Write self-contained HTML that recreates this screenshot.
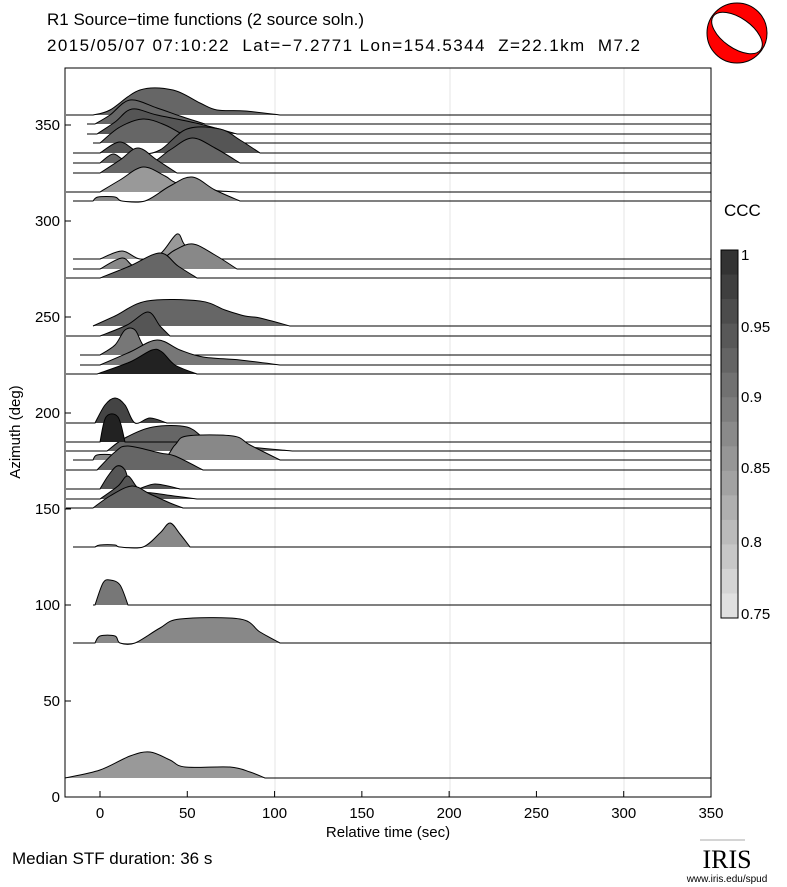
<!DOCTYPE html>
<html><head><meta charset="utf-8"><style>
body{margin:0;background:#fff;}
svg{display:block;font-family:"Liberation Sans",sans-serif;}
</style></head><body>
<svg id="s" width="787" height="887" viewBox="0 0 787 887" xmlns="http://www.w3.org/2000/svg">
<rect width="787" height="887" fill="#fff"/>
<text x="47" y="25" font-size="17">R1 Source−time functions (2 source soln.)</text>
<text x="47" y="51" font-size="17" textLength="593" lengthAdjust="spacing" style="white-space:pre">2015/05/07 07:10:22  Lat=−7.2771 Lon=154.5344  Z=22.1km  M7.2</text>
<g stroke="#e4e4e4" stroke-width="1">
<line x1="275" y1="68" x2="275" y2="797"/><line x1="450" y1="68" x2="450" y2="797"/><line x1="624" y1="68" x2="624" y2="797"/>
</g>
<g id="tr"></g>
<rect x="65" y="68" width="646" height="729" fill="none" stroke="#000" stroke-width="1"/>
<g font-size="15" text-anchor="end" id="yt"></g>
<g font-size="15" text-anchor="middle" id="xt"></g>
<text x="388" y="837" font-size="15" text-anchor="middle">Relative time (sec)</text>
<text transform="translate(20,432) rotate(-90)" font-size="15" text-anchor="middle">Azimuth (deg)</text>
<text x="12" y="864" font-size="17">Median STF duration: 36 s</text>
<text x="724" y="216" font-size="17">CCC</text>
<g id="cb"></g>
<rect x="721" y="250" width="17" height="368" fill="none" stroke="#000"/>
<g font-size="15" id="ct"></g>
<circle cx="737" cy="33" r="30" fill="#f00" stroke="#000"/>
<ellipse cx="737" cy="33" rx="29" ry="15" transform="rotate(35 737 33)" fill="#fff" stroke="#000"/>
<line x1="700" y1="840" x2="745" y2="840" stroke="#aaa"/>
<text x="727" y="868" font-size="26" font-family="Liberation Serif,serif" text-anchor="middle">IRIS</text>
<text x="727" y="882" font-size="10" text-anchor="middle">www.iris.edu/spud</text>
</svg>
<script>
const NS="http://www.w3.org/2000/svg";
function el(p,t,a,txt){const e=document.createElementNS(NS,t);for(const k in a)e.setAttribute(k,a[k]);if(txt!==undefined)e.textContent=txt;p.appendChild(e);return e;}
const yt=document.getElementById('yt');
for(let v=0;v<=350;v+=50){const y=797-v*1.92;el(yt,'text',{x:60,y:y+5},v);el(yt,'line',{x1:65,y1:y,x2:71,y2:y,stroke:'#000'});}
const xt=document.getElementById('xt');
for(let v=0;v<=350;v+=50){const x=100+v*1.7457;el(xt,'text',{x:x,y:818},v);el(xt,'line',{x1:x,y1:797,x2:x,y2:791,stroke:'#000'});}
const cb=document.getElementById('cb');
const n=15;for(let i=0;i<n;i++){const h=368/n;const g=Math.round(0x33+(0xe0-0x33)*i/(n-1));el(cb,'rect',{x:721,y:250+i*h,width:17,height:h+0.5,fill:`rgb(${g},${g},${g})`});}
const ct=document.getElementById('ct');
[[1,255],[0.95,327],[0.9,397],[0.85,468],[0.8,542],[0.75,614]].forEach(([v,y])=>el(ct,'text',{x:741,y:y+5},v));
const T=[
[115,66,'#666',[[93,115],[110,110],[140,90],[173,90],[200,103],[217,110],[245,111],[280,115]]],
[124,87,'#666',[[95,124],[110,115],[130,100],[157,108],[180,116],[205,124]]],
[134,87,'#555',[[97,134],[115,122],[132,109],[157,115],[200,124],[237,134]]],
[143,93,'#666',[[100,143],[120,127],[143,119],[165,125],[187,137],[200,143]]],
[153,73,'#555',[[100,153],[120,142],[140,153],[160,150],[187,129],[220,129],[240,140],[260,153]]],
[163,73,'#666',[[100,163],[113,154],[125,160],[150,163],[170,150],[192,138],[215,148],[240,163]]],
[173,73,'#666',[[100,173],[120,160],[138,148],[157,160],[177,173]]],
[192,66,'#999',[[100,192],[120,180],[143,167],[165,176],[177,183],[210,190],[240,192]]],
[201,73,'#888',[[93,201],[98,197],[115,197],[122,201],[145,201],[170,186],[192,177],[215,190],[240,201]]],
[259,73,'#999',[[100,259],[122,251],[140,259],[160,254],[177,234],[185,245],[200,252],[220,259]]],
[269,73,'#888',[[100,269],[122,258],[135,266],[160,260],[175,250],[193,244],[215,255],[237,269]]],
[278,66,'#666',[[100,278],[130,266],[160,253],[178,266],[197,278]]],
[326,93,'#666',[[93,326],[115,316],[147,301],[200,301],[225,310],[245,316],[260,318],[290,326]]],
[336,66,'#555',[[100,336],[127,325],[148,312],[160,326],[170,336]]],
[355,80,'#777',[[100,355],[115,345],[125,330],[135,330],[143,345],[155,355]]],
[365,80,'#777',[[100,365],[130,352],[157,340],[180,350],[203,357],[240,360],[280,365]]],
[374,66,'#222',[[97,374],[130,362],[152,350],[162,352],[175,365],[197,374]]],
[423,66,'#444',[[95,423],[105,405],[115,398],[125,405],[135,423],[150,418],[167,423]]],
[451,66,'#666',[[107,451],[125,438],[153,427],[187,427],[207,440],[230,445],[293,451]]],
[442,66,'#222',[[100,442],[106,417],[118,417],[125,442]]],
[460,73,'#888',[[93,460],[97,455],[112,455],[115,460],[160,460],[175,445],[187,436],[233,436],[250,445],[280,460]]],
[470,66,'#666',[[97,470],[115,452],[128,446],[160,453],[175,456],[203,470]]],
[489,66,'#555',[[100,489],[108,476],[117,466],[125,470],[133,489],[155,484],[180,489]]],
[499,66,'#555',[[100,499],[118,486],[128,476],[140,490],[160,494],[197,499]]],
[508,66,'#666',[[93,508],[110,496],[132,486],[150,494],[170,503],[183,508]]],
[547,73,'#888',[[95,547],[100,545],[115,545],[120,547],[143,547],[160,533],[170,523],[180,534],[190,547]]],
[605,93,'#777',[[95,605],[103,583],[110,580],[120,585],[128,605]]],
[643,73,'#888',[[95,643],[100,636],[115,636],[120,643],[135,643],[160,628],[180,619],[240,619],[260,632],[280,643]]],
[778,66,'#999',[[65,778],[100,770],[130,756],[150,752],[170,760],[185,767],[230,767],[250,772],[265,778]]],
];
const tr=document.getElementById('tr');
function smooth(p){let d=`M${p[0][0]},${p[0][1]}`;for(let i=0;i<p.length-1;i++){const p0=p[Math.max(0,i-1)],p1=p[i],p2=p[i+1],p3=p[Math.min(p.length-1,i+2)];const c1=[p1[0]+(p2[0]-p0[0])/6,p1[1]+(p2[1]-p0[1])/6],c2=[p2[0]-(p3[0]-p1[0])/6,p2[1]-(p3[1]-p1[1])/6];d+=` C${c1[0]},${c1[1]} ${c2[0]},${c2[1]} ${p2[0]},${p2[1]}`;}return d;}
T.forEach(([b,sx,c,p])=>{const d=smooth(p);el(tr,'path',{d:d+' Z',fill:c,stroke:'none'});el(tr,'path',{d:`M${sx},${b} L${p[0][0]},${p[0][1]} `+d.replace(/^M[^ ]+/,'')+` L711,${b}`,fill:'none',stroke:'#000','stroke-width':1});});
</script>
</body></html>
